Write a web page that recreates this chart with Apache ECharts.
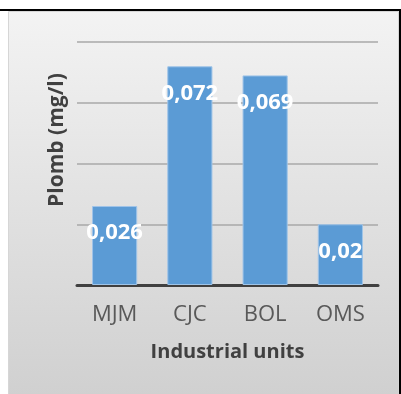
<!DOCTYPE html>
<html>
<head>
<meta charset="utf-8">
<style>
  html, body { margin: 0; padding: 0; background: #ffffff; }
  #chart { width: 401px; height: 394px; }
</style>
<script src="https://cdn.jsdelivr.net/npm/echarts@6/dist/echarts.min.js"></script>
</head>
<body>
<div id="chart"></div>
<script>
// Lead concentration per industrial unit
const units = ['MJM', 'CJC', 'BOL', 'OMS'];
const plomb = [0.026, 0.072, 0.069, 0.02];
const yTicks = [0, 0.02, 0.04, 0.06, 0.08];

const FONT = '"Open Sans", "DejaVu Sans", sans-serif';

const chart = echarts.init(document.getElementById('chart'), null, { renderer: 'canvas' });

chart.setOption({
  backgroundColor: '#ffffff',
  animation: false,
  graphic: [
    // chart-area panel with a soft vertical gradient
    {
      type: 'rect', z: -10, silent: true,
      shape: { x: 8.5, y: 11.5, width: 390, height: 384 },
      style: {
        fill: new echarts.graphic.LinearGradient(0, 0, 0, 1, [
          { offset: 0, color: '#f3f3f3' },
          { offset: 1, color: '#d0d0d0' }
        ]),
        stroke: '#d6d6d6', lineWidth: 1
      }
    },
    // frame lines (top and right)
    { type: 'rect', z: 50, silent: true, shape: { x: 0, y: 9, width: 401, height: 2 }, style: { fill: '#000000' } },
    { type: 'rect', z: 50, silent: true, shape: { x: 399, y: 9, width: 2, height: 385 }, style: { fill: '#000000' } },
    // y-axis title
    {
      type: 'text', z: 50, silent: true,
      x: 57, y: 140, rotation: Math.PI / 2,
      style: {
        text: 'Plomb (mg/l)', fill: '#404040',
        font: 'bold 21px ' + FONT,
        align: 'center', verticalAlign: 'middle'
      }
    }
  ],
  grid: { left: 77, right: 23, top: 42, bottom: 109, containLabel: false },
  xAxis: {
    type: 'category',
    data: units,
    axisLine: { show: true, lineStyle: { color: '#404040', width: 3 } },
    axisTick: { show: false },
    axisLabel: { color: '#595959', fontSize: 22, fontFamily: FONT, margin: 19 },
    name: 'Industrial units',
    nameLocation: 'middle',
    nameGap: 57,
    nameTextStyle: { color: '#404040', fontSize: 20, fontWeight: 'bold', fontFamily: FONT }
  },
  yAxis: {
    type: 'value',
    min: yTicks[0],
    max: yTicks[yTicks.length - 1],
    interval: yTicks[1] - yTicks[0],
    axisLine: { show: false },
    axisTick: { show: false },
    axisLabel: { show: false },
    splitLine: { show: true, lineStyle: { color: '#a8a8a8', width: 1.5 } }
  },
  series: [{
    type: 'bar',
    data: plomb,
    barWidth: '60%',
    itemStyle: { color: '#5b9bd5', borderColor: '#9fc4e8', borderWidth: 1 },
    label: {
      show: true,
      position: 'insideTop',
      distance: 16,
      color: '#ffffff',
      fontSize: 22,
      fontWeight: 'bold',
      fontFamily: FONT,
      formatter: p => String(p.value).replace('.', ',')
    }
  }]
});
</script>
</body>
</html>
